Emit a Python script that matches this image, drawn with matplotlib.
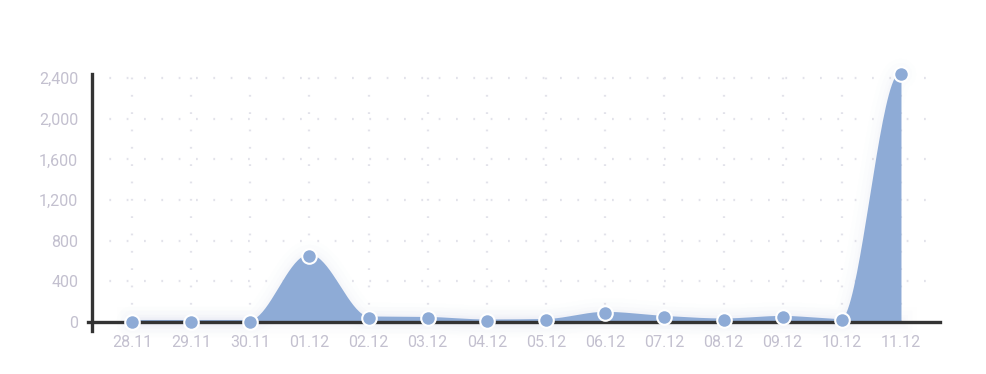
import numpy as np
import matplotlib
matplotlib.use("Agg")
import matplotlib.pyplot as plt
from matplotlib.lines import Line2D

categories = ["28.11", "29.11", "30.11", "01.12", "02.12", "03.12", "04.12",
              "05.12", "06.12", "07.12", "08.12", "09.12", "10.12", "11.12"]
values = [5, 5, 5, 650, 40, 35, 10, 15, 85, 45, 20, 45, 15, 2440]
yticks = [0, 400, 800, 1200, 1600, 2000, 2400]
ytick_labels = ["0", "400", "800", "1,200", "1,600", "2,000", "2,400"]

FILL = "#8eabd6"
LABEL = "#c3c0cf"
AXIS = "#333333"


def monotone_curve(xs, ys, n=40):
    xs = np.asarray(xs, float)
    ys = np.asarray(ys, float)
    h = np.diff(xs)
    s = np.diff(ys) / h
    m = np.zeros_like(ys)
    for i in range(1, len(xs) - 1):
        s0, s1 = s[i - 1], s[i]
        p = (s0 * h[i] + s1 * h[i - 1]) / (h[i - 1] + h[i])
        m[i] = (np.sign(s0) + np.sign(s1)) * min(abs(s0), abs(s1), 0.5 * abs(p))
    m[0] = 0.0
    m[-1] = 0.0
    px, py = [], []
    for i in range(len(xs) - 1):
        t = np.linspace(0, 1, n, endpoint=(i == len(xs) - 2))
        h00 = 2 * t**3 - 3 * t**2 + 1
        h10 = t**3 - 2 * t**2 + t
        h01 = -2 * t**3 + 3 * t**2
        h11 = t**3 - t**2
        px.append(xs[i] + t * h[i])
        py.append(h00 * ys[i] + h10 * h[i] * m[i] + h01 * ys[i + 1] + h11 * h[i] * m[i + 1])
    return np.concatenate(px), np.concatenate(py)


plt.rcParams["font.family"] = ["Roboto", "DejaVu Sans"]

fig = plt.figure(figsize=(9.87, 3.74), dpi=100)
ax = fig.add_axes([0.0932, 0.139, 0.8592, 0.6604])

x = np.arange(len(categories))
cx, cy = monotone_curve(x, values)

# soft glow around the area
for lw, a in [(22, 0.02), (16, 0.03), (10, 0.04), (6, 0.05)]:
    ax.plot(cx, cy, color="#c9cde6", lw=lw, alpha=a, solid_capstyle="round",
            zorder=1, clip_on=False)
    ax.plot([x[0], x[-1]], [0, 0], color="#c9cde6", lw=lw, alpha=a * 0.8,
            zorder=1, clip_on=False)

ax.fill_between(cx, 0, cy, color=FILL, lw=0, zorder=2)
ax.plot(cx, cy, color=FILL, lw=2.2, zorder=2, solid_capstyle="butt")

ax.plot(x, values, "o", ms=10.5, mfc=FILL, mec="white", mew=1.5, zorder=5,
        clip_on=False)

ax.set_xlim(-0.676, len(categories) - 1 + 0.66)
ax.set_ylim(0, 2430)

# dotted grid
for v in yticks[1:]:
    ax.axhline(v, color="#e2e2ea", lw=1.6, ls=(0, (0.8, 7)), zorder=0)
for xi in x:
    ax.axvline(xi, color="#e2e2ea", lw=1.6, ls=(0, (0.8, 7)), zorder=0)

for sp in ax.spines.values():
    sp.set_visible(False)

# axes lines
ax.add_line(Line2D([0, 0], [-0.035, 1.003], transform=ax.transAxes, color=AXIS,
                   lw=2.4, clip_on=False, zorder=6))
ax.add_line(Line2D([-0.005, 1.0], [0, 0], transform=ax.transAxes, color=AXIS,
                   lw=2.4, clip_on=False, zorder=4))

ax.set_xticks(x)
ax.set_xticklabels(categories)
ax.set_yticks(yticks)
ax.set_yticklabels(ytick_labels)
ax.tick_params(axis="both", length=0, labelsize=11.5, labelcolor=LABEL)
ax.tick_params(axis="y", pad=10)
ax.tick_params(axis="x", pad=9)

fig.savefig("out.png", dpi=100, facecolor="white")
